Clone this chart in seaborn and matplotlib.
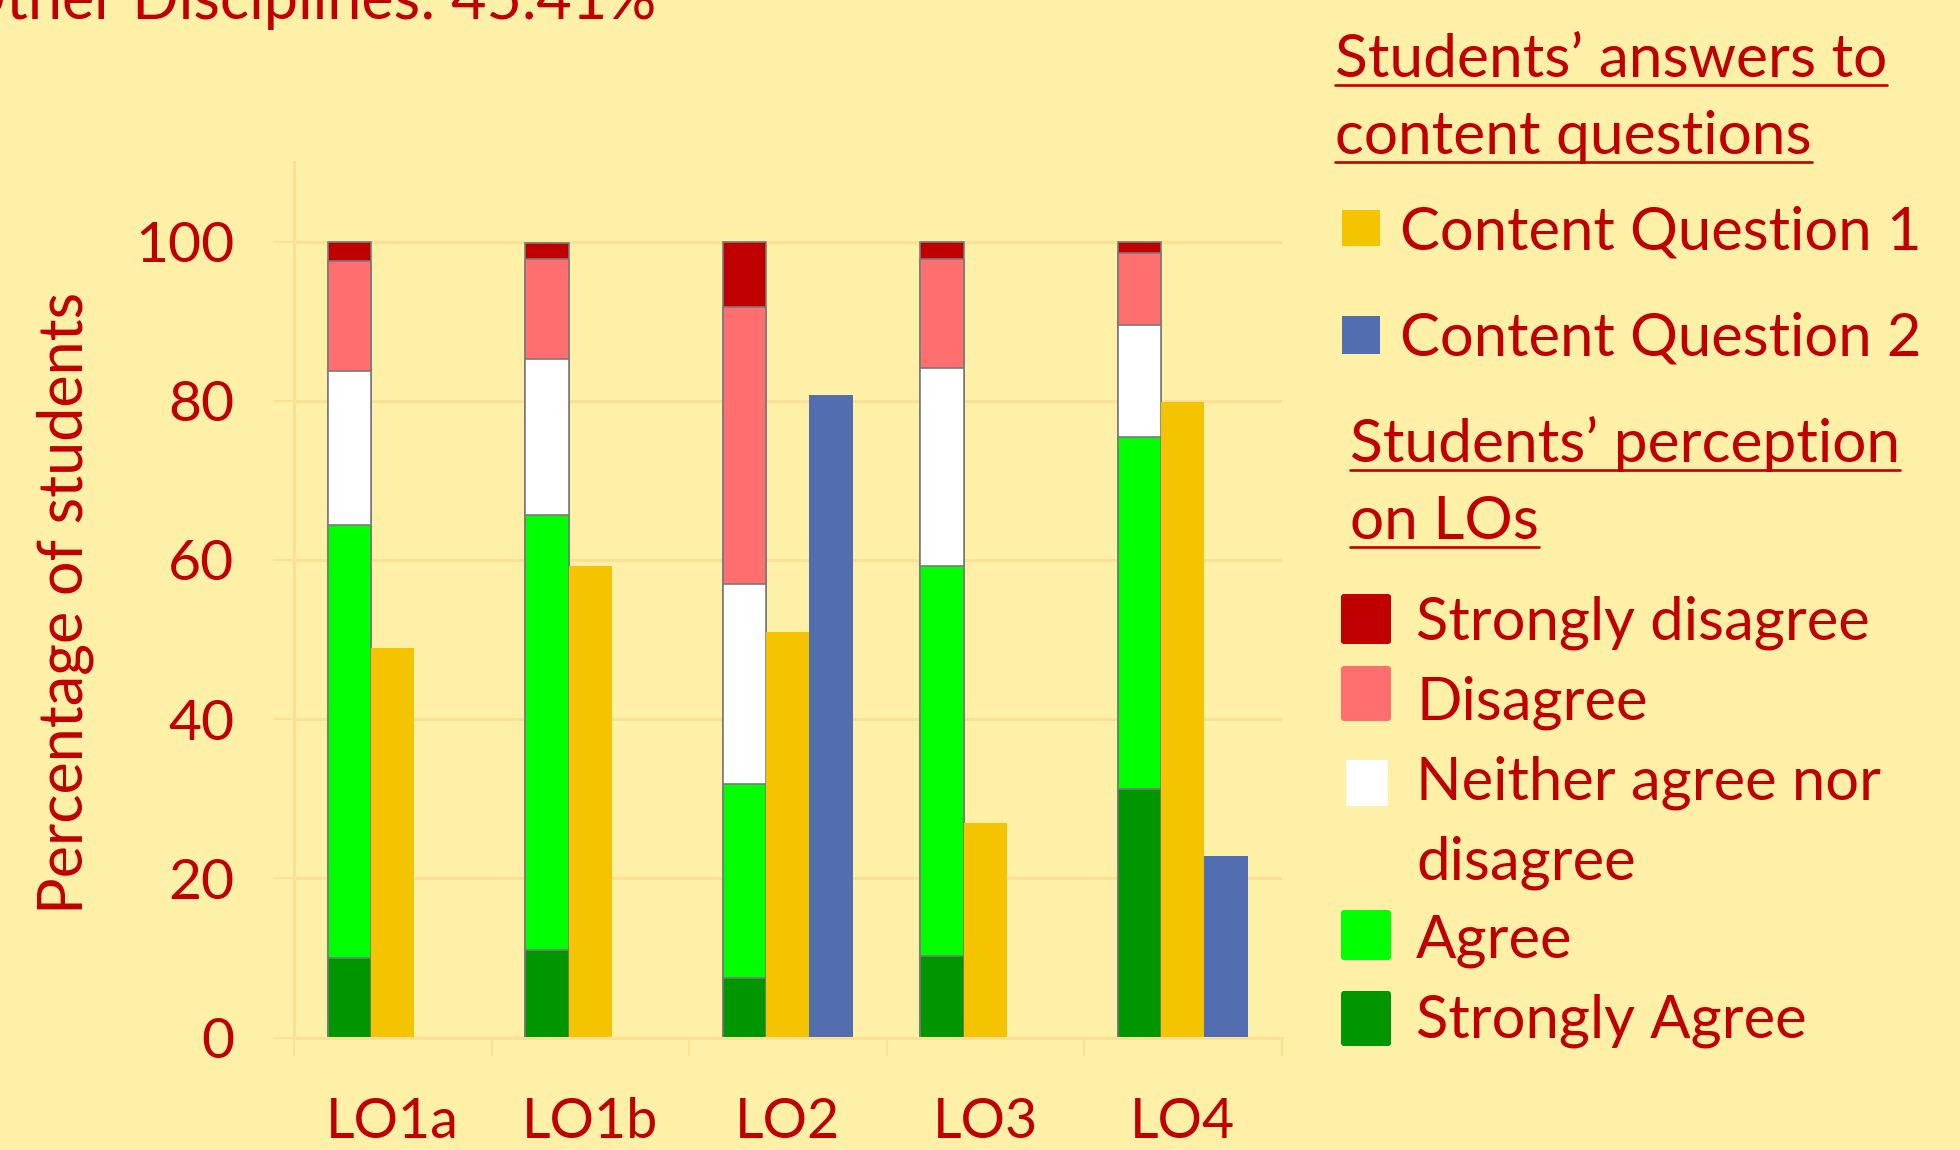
import numpy as np
import pandas as pd
import matplotlib
matplotlib.use("Agg")
import matplotlib.pyplot as plt
from matplotlib.patches import Rectangle, FancyBboxPatch
from matplotlib.lines import Line2D
import seaborn as sns

# values (percent of students)
lo_labels = ["LO1a", "LO1b", "LO2", "LO3", "LO4"]
strongly_agree = [10.0, 11.0, 7.5, 10.3, 31.2]
agree = [54.4, 54.7, 24.3, 48.9, 44.3]
neither = [19.3, 19.6, 25.2, 24.9, 14.0]
disagree = [13.9, 12.5, 34.8, 13.7, 9.1]
strongly_disagree = [2.4, 2.0, 8.2, 2.2, 1.4]
content_q1 = [48.9, 59.3, 50.9, 26.9, 79.8]
content_q2 = [np.nan, np.nan, 80.7, np.nan, 22.8]
y_ticks = [0, 20, 40, 60, 80, 100]

# colours
bg = "#FFF0A8"
grid_col = "#FBE096"
red = "#C00000"
edge_gray = "#7A7A7A"
perception_colors = ["#009600", "#00FF00", "#FFFFFF", "#FF6F6F", "#C00000"]
cq1_color = "#F5C400"
cq2_color = "#536EB0"

W, H = 1960, 1150

sns.set_theme(style="white")
plt.rcParams["font.family"] = ["Lato", "DejaVu Sans"]

fig = plt.figure(figsize=(W / 100, H / 100), dpi=100, facecolor=bg)
ax = fig.add_axes([294 / W, 1 - 1037.5 / H, 987.5 / W, 875.5 / H])
ax.set_facecolor(bg)

series_order = ["perception", "cq1", "cq2"]
levels = np.array([strongly_agree, agree, neither, disagree, strongly_disagree])
tops = np.cumsum(levels, axis=0)

# stacked perception bars: draw cumulative heights from the top level down
for k in range(len(levels) - 1, -1, -1):
    df = pd.DataFrame({"lo": lo_labels, "value": tops[k], "series": "perception"})
    sns.barplot(data=df, x="lo", y="value", hue="series", hue_order=series_order,
                order=lo_labels, dodge=True, width=0.66, errorbar=None, legend=False,
                saturation=1,
                palette={"perception": perception_colors[k], "cq1": cq1_color, "cq2": cq2_color},
                edgecolor=edge_gray, linewidth=1.2, ax=ax)

cq_df = pd.DataFrame({"lo": lo_labels * 2,
                      "value": content_q1 + content_q2,
                      "series": ["cq1"] * 5 + ["cq2"] * 5}).dropna()
sns.barplot(data=cq_df, x="lo", y="value", hue="series", hue_order=series_order,
            order=lo_labels, dodge=True, width=0.66, errorbar=None, legend=False,
            saturation=1,
            palette={"perception": "#FFFFFF", "cq1": cq1_color, "cq2": cq2_color},
            linewidth=0, ax=ax)

ax.set_xlim(-0.5, 4.5)
ax.set_ylim(0, 110)
ax.set_axisbelow(True)
ax.set_yticks(y_ticks)
ax.yaxis.grid(True, color=grid_col, linewidth=2.2)
ax.xaxis.grid(False)
for s in ["top", "right"]:
    ax.spines[s].set_visible(False)
ax.spines["left"].set_color(grid_col)
ax.spines["left"].set_linewidth(2.2)
ax.spines["bottom"].set_color(grid_col)
ax.spines["bottom"].set_linewidth(2.2)

ax.tick_params(axis="y", length=15, width=1.6, color=grid_col, pad=28,
               labelsize=41, labelcolor=red, left=True)
ax.set_xticks(np.arange(-0.5, 5, 1.0), minor=True)
ax.tick_params(axis="x", which="minor", length=13, width=1.6, color=grid_col, bottom=True)
ax.tick_params(axis="x", which="major", length=0, pad=43, labelsize=40, labelcolor=red)
ax.set_xlabel("")
ax.set_ylabel("Percentage of students", fontsize=44, color=red)
ax.yaxis.set_label_coords(-0.203, 0.496)

# title fragment, runs off the left edge in the reference
fig.text(656 / W, 1 - 19 / H, "Other Disciplines: 45.41%", ha="right", va="baseline",
         fontsize=44, color=red)

# legend drawn by hand to match the slide layout
legend_fs = 43
header_lines = [
    ("Students\u2019 answers to", 1335, 77),
    ("content questions", 1335, 154),
    ("Students\u2019 perception", 1350, 462),
    ("on LOs", 1350, 539),
]
entries = [
    # label lines, text x, baselines, swatch colour, swatch box (x0, y0, x1, y1)
    (["Content Question 1"], 1400, [250], cq1_color, (1342, 210, 1380, 246), False),
    (["Content Question 2"], 1400, [356], cq2_color, (1342, 316, 1380, 354), False),
    (["Strongly disagree"], 1416, [640], perception_colors[4], (1341, 594, 1391, 644), True),
    (["Disagree"], 1416, [719], perception_colors[3], (1341, 666, 1391, 721), True),
    (["Neither agree nor", "disagree"], 1416, [800, 879], perception_colors[2], (1346, 760, 1388, 806), False),
    (["Agree"], 1416, [958], perception_colors[1], (1341, 910, 1391, 960), True),
    (["Strongly Agree"], 1416, [1038], perception_colors[0], (1341, 991, 1391, 1046), True),
]

header_texts = []
for label, x, base in header_lines:
    t = fig.text(x / W, 1 - base / H, label, ha="left", va="baseline",
                 fontsize=legend_fs + 0.5, color=red)
    header_texts.append((t, base))

for lines, tx, bases, col, box, rounded in entries:
    for label, base in zip(lines, bases):
        fig.text(tx / W, 1 - base / H, label, ha="left", va="baseline",
                 fontsize=legend_fs, color=red)
    x0, y0, x1, y1 = box
    if rounded:
        patch = FancyBboxPatch((x0 + 3, H - y1 + 3), x1 - x0 - 6, y1 - y0 - 6,
                               boxstyle="round,pad=3", transform=None,
                               facecolor=col, edgecolor="none")
    else:
        patch = Rectangle((x0, H - y1), x1 - x0, y1 - y0, transform=None,
                          facecolor=col, edgecolor="none")
    fig.add_artist(patch)

# underline the legend headers
fig.canvas.draw()
renderer = fig.canvas.get_renderer()
for t, base in header_texts:
    bb = t.get_window_extent(renderer)
    yline = H - (base + 8)
    fig.add_artist(Line2D([bb.x0, bb.x1], [yline, yline], transform=None,
                          color=red, linewidth=1.9))

fig.savefig("out.png", dpi=100, facecolor=bg)
